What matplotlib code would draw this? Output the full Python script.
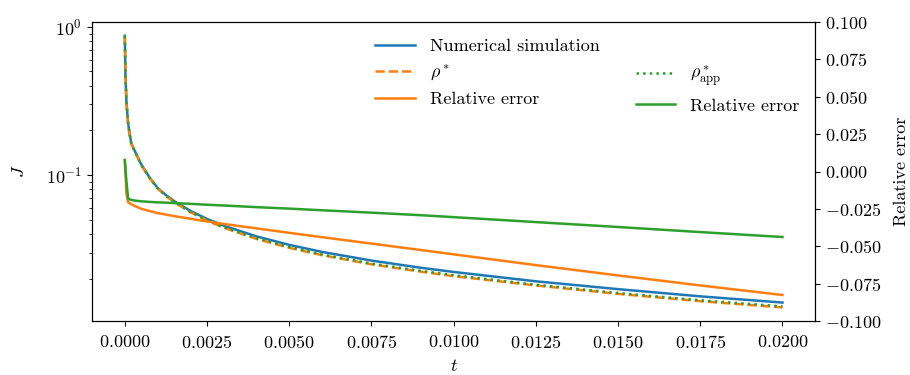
import matplotlib
matplotlib.use("Agg")
import matplotlib.pyplot as plt
from matplotlib.lines import Line2D

plt.rcParams['font.family'] = 'serif'
plt.rcParams['font.serif'] = ['cmr10']
plt.rcParams['mathtext.fontset'] = 'cm'
plt.rcParams['axes.formatter.use_mathtext'] = True
plt.rcParams['font.size'] = 13
plt.rcParams['lines.linewidth'] = 1.8
plt.rcParams['xtick.major.pad'] = 6

# time samples
t = [0.0, 0.00002, 0.00005, 0.0001, 0.00015, 0.0002, 0.0003, 0.0005, 0.00075, 0.001,
     0.00125, 0.0015, 0.002, 0.0025, 0.003, 0.004, 0.005, 0.006, 0.0075, 0.009, 0.01,
     0.0125, 0.015, 0.0175, 0.02]

# J from the numerical simulation
J_num = [0.87, 0.48, 0.31, 0.225, 0.188, 0.163, 0.146, 0.118, 0.0965, 0.0817,
         0.0733, 0.0667, 0.0572, 0.0506, 0.0456, 0.0386, 0.0338, 0.0303, 0.0265, 0.0237, 0.0222,
         0.0192, 0.0170, 0.0152, 0.0138]

# rho*
J_rho = [0.87, 0.48, 0.31, 0.224, 0.187, 0.162, 0.145, 0.117, 0.0957, 0.0809,
         0.0724, 0.0657, 0.0561, 0.0493, 0.0442, 0.0371, 0.0323, 0.0288, 0.0250, 0.0223, 0.0208,
         0.0180, 0.0158, 0.0141, 0.0128]

# rho*_app
J_app = [0.87, 0.48, 0.31, 0.224, 0.187, 0.162, 0.145, 0.117, 0.0959, 0.0812,
         0.0727, 0.0660, 0.0564, 0.0497, 0.0446, 0.0375, 0.0327, 0.0291, 0.0253, 0.0226, 0.0211,
         0.0182, 0.0160, 0.0143, 0.0130]

# relative errors
err_rho = [0.0077, -0.0012, -0.0146, -0.0205, -0.0212, -0.0218, -0.0230, -0.0249, -0.0264, -0.0278,
           -0.0288, -0.0298, -0.0316, -0.0334, -0.0350, -0.0380, -0.0410, -0.0439, -0.0482, -0.0525, -0.0554,
           -0.0626, -0.0695, -0.0762, -0.0826]
err_app = [0.0077, 0.0021, -0.0064, -0.0180, -0.0186, -0.0190, -0.0194, -0.0199, -0.0203, -0.0206,
           -0.0208, -0.0211, -0.0216, -0.0222, -0.0227, -0.0238, -0.0248, -0.0259, -0.0275, -0.0292, -0.0305,
           -0.0338, -0.0371, -0.0405, -0.0438]

fig, ax = plt.subplots(figsize=(9.1, 3.75), dpi=100)
fig.subplots_adjust(left=0.101, right=0.896, top=0.941, bottom=0.144)

l1, = ax.plot(t, J_num, color='C0', label='Numerical simulation')
l2, = ax.plot(t, J_rho, color='C1', ls='--', label=r'$\rho^*$')
l4, = ax.plot(t, J_app, color='C2', ls=':', label=r'$\rho^*_{\mathrm{app}}$')
ax.set_yscale('log')
ax.set_xlabel('$t$', labelpad=5)
ax.set_ylabel('$J$', labelpad=14)

ax2 = ax.twinx()
l3, = ax2.plot(t, err_rho, color='C1', label='Relative error')
l5, = ax2.plot(t, err_app, color='C2', label='Relative error')
ax2.set_ylim(-0.1, 0.1)
ax2.set_ylabel('Relative error', labelpad=9)

blank = Line2D([], [], color='none')
ax.legend([l1, l2, l3, blank, l4, l5],
          [l1.get_label(), l2.get_label(), l3.get_label(), '', l4.get_label(), l5.get_label()],
          ncol=2, frameon=False, loc='upper right', handlelength=2.2)

fig.savefig('out.png')
